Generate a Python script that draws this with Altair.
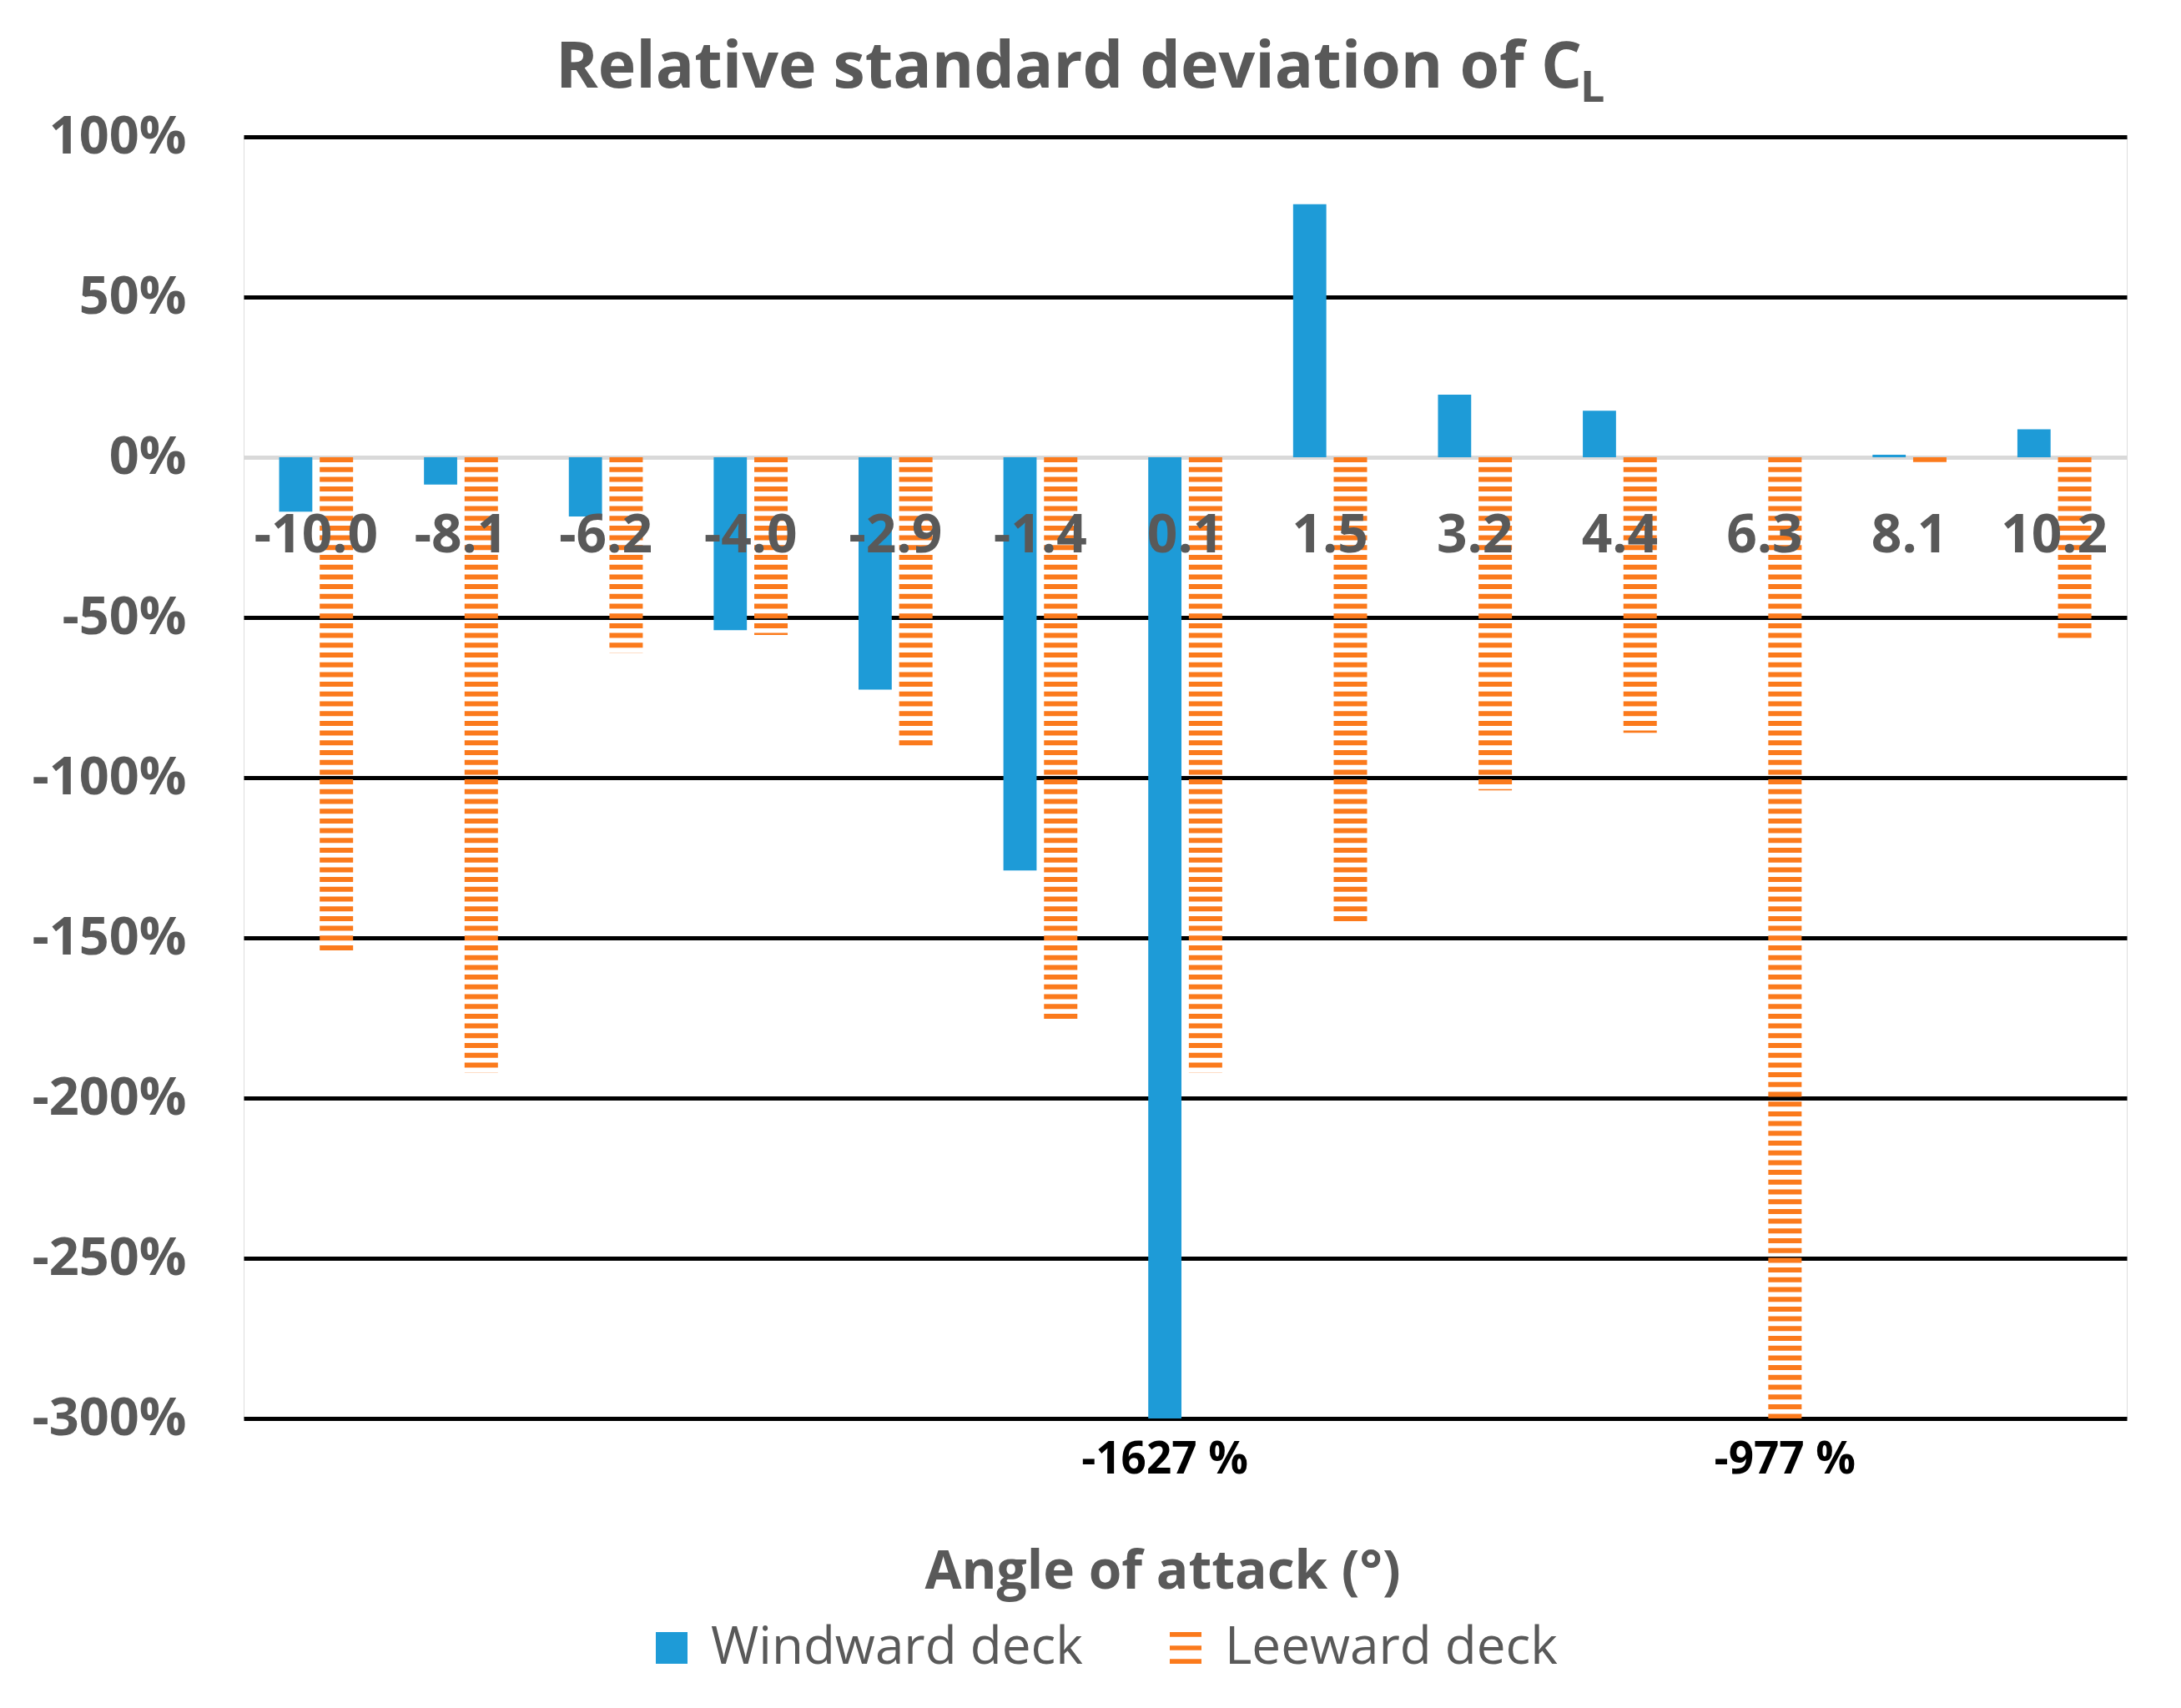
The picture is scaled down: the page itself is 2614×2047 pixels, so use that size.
import altair as alt
import pandas as pd

angles = ["-10.0", "-8.1", "-6.2", "-4.0", "-2.9", "-1.4", "0.1", "1.5", "3.2", "4.4", "6.3", "8.1", "10.2"]
windward = [-17, -8.5, -18.5, -54, -72.5, -129, -1627, 79, 19.5, 14.5, 0, 0.8, 8.7]
leeward = [-155, -192, -61, -55.5, -90.5, -176.5, -192, -145, -104, -86, -977, -1.5, -57.5]
series = ["Windward deck", "Leeward deck"]
colors = ["#1E9BD7", "#FB7A1C"]
y_ticks = [-300, -250, -200, -150, -100, -50, 0, 50, 100]
title_main = "Relative standard deviation of C"
title_sub = "L"
x_title = "Angle of attack (°)"

FONT = "Open Sans"
GRAY = "#595959"

rows = []
for a, w, l in zip(angles, windward, leeward):
    rows.append({"angle": a, "series": series[0], "value": w, "zero": 0})
    rows.append({"angle": a, "series": series[1], "value": l, "zero": 0})
df = pd.DataFrame(rows)
cats = pd.DataFrame({"angle": angles, "zero": [0] * len(angles)})

xscale = alt.Scale(domain=angles, paddingInner=0.49, paddingOuter=0.245)
xoff = alt.XOffset("series:N", scale=alt.Scale(domain=series, paddingInner=0.184, paddingOuter=0))
yscale = alt.Scale(domain=[-300, 100], clamp=True, nice=False)

base = alt.Chart(df)

bars = base.transform_filter(alt.datum.series == series[0]).mark_bar(color=colors[0]).encode(
    x=alt.X("angle:N", scale=xscale, sort=angles,
            axis=alt.Axis(labels=False, ticks=False, domain=False, title=x_title,
                          titleFont=FONT, titleFontSize=64, titleFontWeight="bold",
                          titleColor=GRAY, titlePadding=152, titleX=1101)),
    xOffset=xoff,
    y=alt.Y("value:Q", scale=yscale, title=None,
            axis=alt.Axis(values=y_ticks, labelExpr="datum.value + '%'", ticks=False, domain=False,
                          labelFont=FONT, labelFontSize=63, labelFontWeight="bold", labelColor=GRAY,
                          labelPadding=69, labelLimit=500, grid=True, gridWidth=5,
                          gridColor={"condition": {"test": "datum.value === 0", "value": "#d9d9d9"},
                                     "value": "#000000"})),
)

hatch = base.transform_filter(alt.datum.series == series[1]).mark_rule(
    color=colors[1], strokeWidth=40, strokeDash=[6, 5.7], strokeCap="butt"
).encode(
    x=alt.X("angle:N", scale=xscale, sort=angles),
    xOffset=xoff,
    y=alt.Y("zero:Q", scale=yscale, title=None),
    y2="value:Q",
)

xlabels = alt.Chart(cats).mark_text(
    font=FONT, fontSize=64, fontWeight="bold", color=GRAY, baseline="middle", dy=95
).encode(
    x=alt.X("angle:N", scale=xscale, sort=angles),
    y=alt.Y("zero:Q", scale=yscale, title=None),
    text="angle:N",
)

notes = base.transform_filter(alt.datum.value < -300).transform_calculate(
    label="datum.value + ' %'"
).mark_text(font=FONT, fontSize=53, fontWeight="bold", color="#000000", baseline="middle", dy=50).encode(
    x=alt.X("angle:N", scale=xscale, sort=angles),
    xOffset=xoff,
    y=alt.Y("value:Q", scale=yscale, title=None),
    text="label:N",
)

hatch_path = "M-1,-1H1V-0.7H-1Z M-1,-0.15H1V0.15H-1Z M-1,0.7H1V1H-1Z"
legend_layer = base.transform_filter("datum.value > 1e9").mark_point(filled=True, opacity=1).encode(
    color=alt.Color("series:N", scale=alt.Scale(domain=series, range=colors),
                    legend=alt.Legend(orient="none", legendX=482, legendY=1780, direction="horizontal",
                                      title=None, symbolSize=1444, symbolStrokeWidth=0,
                                      labelFont=FONT, labelFontSize=62, labelColor=GRAY,
                                      labelLimit=800, labelOffset=16, columnPadding=92)),
    shape=alt.Shape("series:N", scale=alt.Scale(domain=series, range=["square", hatch_path])),
)

t_main = alt.Chart(pd.DataFrame({"t": [title_main]})).mark_text(
    font=FONT, fontSize=77, fontWeight="bold", color=GRAY, align="right", baseline="alphabetic"
).encode(x=alt.value(1604), y=alt.value(-59), text="t:N")
t_sub = alt.Chart(pd.DataFrame({"t": [title_sub]})).mark_text(
    font=FONT, fontSize=52, fontWeight="bold", color=GRAY, align="left", baseline="alphabetic"
).encode(x=alt.value(1602), y=alt.value(-42), text="t:N")

chart = alt.layer(bars, hatch, xlabels, notes, legend_layer, t_main, t_sub).properties(
    width=2257, height=1536,
    autosize=alt.AutoSizeParams(type="none"),
    padding={"left": 284, "top": 156, "right": 50, "bottom": 330},
).configure_view(stroke=None).configure(background="white")

chart.save("out.html", embed_options={"renderer": "svg", "actions": False})
